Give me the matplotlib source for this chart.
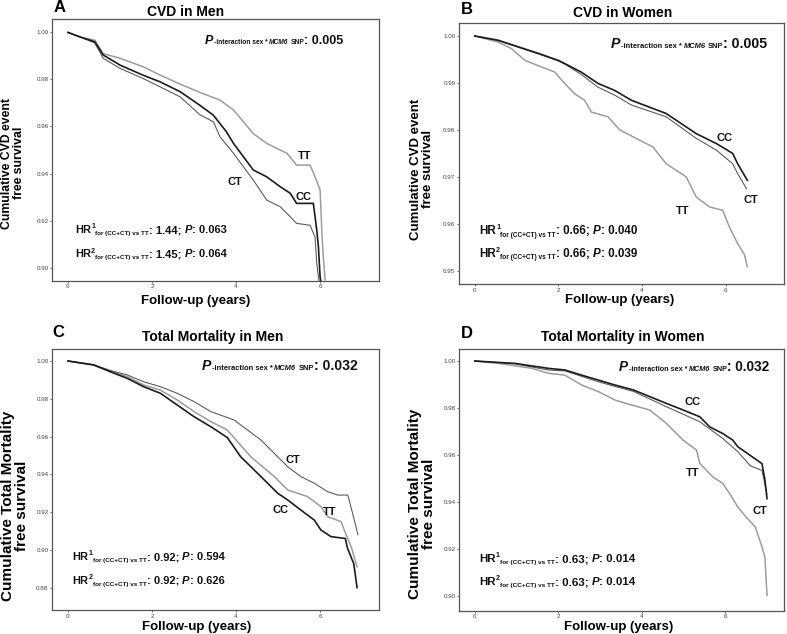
import matplotlib
matplotlib.use("Agg")
import matplotlib.pyplot as plt

plt.rcParams['font.family'] = ['Liberation Sans', 'DejaVu Sans']

# Kaplan-Meier curves: (years, cumulative free survival)
a_cc_t = [0, 0.3, 0.64, 0.84, 1.24, 1.79, 2.19, 2.67, 3.14, 3.46, 3.77, 3.94, 4.41, 4.73, 5.05, 5.29, 5.44, 5.84, 5.88, 5.92, 5.96, 6.0, 6.02]
a_cc_s = [1.0, 0.998, 0.996, 0.9904, 0.9861, 0.9818, 0.979, 0.9748, 0.969, 0.9648, 0.9578, 0.9528, 0.9415, 0.9386, 0.9344, 0.9316, 0.9273, 0.9273, 0.9216, 0.916, 0.9089, 0.896, 0.894]
a_ct_t = [0, 0.3, 0.64, 0.84, 1.24, 1.79, 2.19, 2.67, 3.14, 3.46, 3.62, 3.94, 4.41, 4.73, 5.05, 5.29, 5.44, 5.76, 5.88, 5.92, 5.96, 5.98]
a_ct_s = [1.0, 0.998, 0.9955, 0.989, 0.9847, 0.9804, 0.9769, 0.9726, 0.965, 0.962, 0.9556, 0.9486, 0.9372, 0.9287, 0.9259, 0.9216, 0.9188, 0.918, 0.913, 0.9018, 0.896, 0.894]
a_tt_t = [0, 0.3, 0.64, 0.84, 1.24, 1.79, 2.19, 2.67, 3.14, 3.62, 3.94, 4.41, 4.73, 5.21, 5.44, 5.76, 5.88, 6.0, 6.04, 6.07, 6.12]
a_tt_s = [1.0, 0.998, 0.9967, 0.991, 0.989, 0.9854, 0.9819, 0.978, 0.9745, 0.9712, 0.967, 0.957, 0.9528, 0.9486, 0.9436, 0.9436, 0.9386, 0.933, 0.916, 0.906, 0.8948]

b_cc_t = [0, 0.56, 1.04, 1.52, 2.0, 2.16, 2.55, 2.95, 3.35, 3.75, 4.58, 5.3, 5.78, 6.17, 6.29, 6.52]
b_cc_s = [1.0, 0.9991, 0.9977, 0.9963, 0.9948, 0.9941, 0.9923, 0.9899, 0.9884, 0.9863, 0.9835, 0.9792, 0.9771, 0.975, 0.9728, 0.9693]
b_ct_t = [0, 0.56, 1.04, 1.52, 2.0, 2.16, 2.55, 2.95, 3.35, 3.75, 4.58, 5.3, 5.78, 6.17, 6.29, 6.5]
b_ct_s = [1.0, 0.999, 0.9976, 0.9962, 0.9947, 0.994, 0.9918, 0.9891, 0.9874, 0.9853, 0.9828, 0.9782, 0.9757, 0.9728, 0.9707, 0.9675]
b_tt_t = [0, 0.56, 0.88, 1.2, 1.6, 1.92, 2.08, 2.39, 2.63, 2.79, 3.19, 3.47, 3.95, 4.26, 4.58, 5.06, 5.3, 5.62, 5.93, 6.09, 6.29, 6.45, 6.52]
b_tt_s = [1.0, 0.9987, 0.9973, 0.9948, 0.9934, 0.9923, 0.9906, 0.9877, 0.9863, 0.9838, 0.9828, 0.98, 0.9778, 0.9764, 0.9728, 0.97, 0.9657, 0.9636, 0.9629, 0.9594, 0.9558, 0.9535, 0.9509]

c_cc_t = [0, 0.61, 1.01, 1.41, 1.8, 2.2, 2.6, 3.0, 3.4, 3.79, 4.11, 4.51, 4.99, 5.23, 5.54, 5.86, 6.02, 6.26, 6.6, 6.65, 6.8, 6.88]
c_cc_s = [1.0, 0.9979, 0.9943, 0.9908, 0.9864, 0.9829, 0.9767, 0.9705, 0.9652, 0.9595, 0.9493, 0.9406, 0.93, 0.9264, 0.9211, 0.9158, 0.9105, 0.907, 0.906, 0.901, 0.8927, 0.880]
c_ct_t = [0, 0.61, 1.01, 1.41, 1.8, 2.2, 2.6, 3.0, 3.4, 3.95, 4.59, 4.99, 5.23, 5.54, 5.86, 6.18, 6.42, 6.66, 6.8, 6.9]
c_ct_s = [1.0, 0.998, 0.995, 0.9926, 0.989, 0.9864, 0.9829, 0.9785, 0.9732, 0.9688, 0.9582, 0.9493, 0.944, 0.9388, 0.9353, 0.9308, 0.929, 0.929, 0.917, 0.908]
c_tt_t = [0, 0.61, 1.01, 1.41, 1.8, 2.2, 2.6, 3.0, 3.4, 3.79, 4.35, 4.91, 5.23, 5.7, 6.02, 6.18, 6.5, 6.6, 6.75, 6.88]
c_tt_s = [1.0, 0.9979, 0.9945, 0.9917, 0.9873, 0.9846, 0.9794, 0.9732, 0.9679, 0.9635, 0.9493, 0.9388, 0.9317, 0.9282, 0.9229, 0.9176, 0.9149, 0.909, 0.901, 0.891]

d_cc_t = [0, 0.96, 1.76, 2.16, 2.56, 2.96, 3.36, 3.8, 4.59, 4.99, 5.39, 5.63, 5.94, 6.18, 6.3, 6.88, 6.95, 7.0]
d_cc_s = [1.0, 0.999, 0.9969, 0.9962, 0.994, 0.9919, 0.9898, 0.9877, 0.982, 0.9792, 0.9763, 0.972, 0.9692, 0.9664, 0.9636, 0.9564, 0.9495, 0.9415]
d_ct_t = [0, 0.96, 1.76, 2.16, 2.56, 2.96, 3.36, 3.8, 4.59, 5.39, 5.94, 6.3, 6.6, 6.88, 7.0]
d_ct_s = [1.0, 0.9988, 0.9962, 0.9958, 0.9935, 0.9912, 0.9892, 0.9871, 0.9806, 0.9742, 0.9671, 0.9615, 0.9555, 0.9535, 0.9435]
d_tt_t = [0, 0.57, 1.37, 1.76, 2.16, 2.56, 2.96, 3.36, 3.76, 4.19, 4.59, 4.99, 5.31, 5.39, 5.7, 5.94, 6.1, 6.3, 6.5, 6.72, 6.88, 6.95, 7.0]
d_tt_s = [1.0, 0.999, 0.9969, 0.9948, 0.994, 0.9898, 0.987, 0.9834, 0.9813, 0.9792, 0.9735, 0.9664, 0.9622, 0.9565, 0.9508, 0.948, 0.9438, 0.938, 0.9337, 0.9295, 0.921, 0.9167, 0.9004]

letters = ["A", "B", "C", "D"]
titles = ["CVD in Men", "CVD in Women", "Total Mortality in Men", "Total Mortality in Women"]
ylabels = ["Cumulative CVD event\nfree survival", "Cumulative CVD event\nfree survival",
           "Cumulative Total Mortality\nfree survival", "Cumulative Total Mortality\nfree survival"]
p_interaction = ["0.005", "0.005", "0.032", "0.032"]
hr1 = [("1.44", "0.063"), ("0.66", "0.040"), ("0.92", "0.594"), ("0.63", "0.014")]
hr2 = [("1.45", "0.064"), ("0.66", "0.039"), ("0.92", "0.626"), ("0.63", "0.014")]
yticks = [[0.90, 0.92, 0.94, 0.96, 0.98, 1.00], [0.95, 0.96, 0.97, 0.98, 0.99, 1.00],
          [0.88, 0.90, 0.92, 0.94, 0.96, 0.98, 1.00], [0.90, 0.92, 0.94, 0.96, 0.98, 1.00]]
# curve label positions (years, survival)
label_pos = [
    {"TT": (5.62, 0.9476), "CT": (3.98, 0.9365), "CC": (5.6, 0.9299)},
    {"CC": (5.97, 0.9783), "CT": (6.6, 0.965), "TT": (4.97, 0.9627)},
    {"CT": (5.35, 0.9474), "TT": (6.22, 0.920), "CC": (5.05, 0.9211)},
    {"CC": (5.21, 0.9826), "TT": (5.21, 0.9524), "CT": (6.84, 0.9363)},
]

curves = [
    {"CC": (a_cc_t, a_cc_s), "CT": (a_ct_t, a_ct_s), "TT": (a_tt_t, a_tt_s)},
    {"CC": (b_cc_t, b_cc_s), "CT": (b_ct_t, b_ct_s), "TT": (b_tt_t, b_tt_s)},
    {"CC": (c_cc_t, c_cc_s), "CT": (c_ct_t, c_ct_s), "TT": (c_tt_t, c_tt_s)},
    {"CC": (d_cc_t, d_cc_s), "CT": (d_ct_t, d_ct_s), "TT": (d_tt_t, d_tt_s)},
]
line_style = {"CC": ("#1c1c1c", 1.2), "CT": ("#5c5c5c", 0.8), "TT": ("#9c9c9c", 1.1)}

# layout (figure fraction) and text placement (axes fraction)
rects = [[0.066, 0.5568, 0.4155, 0.4132], [0.583, 0.552, 0.4133, 0.412],
         [0.066, 0.0374, 0.4155, 0.4126], [0.5832, 0.0363, 0.4126, 0.4128]]
ylims = [(0.8943, 1.0057), (0.9472, 1.0028), (0.868, 1.0065), (0.8938, 1.005)]
letter_xy = [(0.024, 1.044), (0.025, 1.052), (0.021, 1.061), (0.023, 1.06)]
title_xy = [(0.41, 1.028), (0.505, 1.036), (0.493, 1.045), (0.505, 1.047)]
pint_xy = [(0.468, 0.903), (0.468, 0.904), (0.458, 0.917), (0.493, 0.917)]
pint_scale = [1.0, 1.13, 1.12, 1.09]
hr_xy = [(0.070, 0.182, 0.090), (0.062, 0.190, 0.105), (0.063, 0.191, 0.102), (0.062, 0.187, 0.098)]
hr_scale = [1.0, 1.05, 1.0, 1.03]
ylabel_xy = [(-0.118, 0.45), (-0.114, 0.44), (-0.113, 0.40), (-0.115, 0.41)]
ylabel_size = [8.8, 9.5, 11, 11]
xlabel_xy = [(0.44, -0.078), (0.493, -0.063), (0.442, -0.063), (0.493, -0.06)]

fig = plt.figure(figsize=(7.87, 6.34), dpi=100)
renderer = fig.canvas.get_renderer()


def rich_text(ax, x, y, parts, scale=1.0):
    # parts: (text, size, style, dy in points, gap before in points)
    off = 0.0
    for s, size, style, dy, gap in parts:
        off += gap * scale
        t = ax.annotate(s, (x, y), xycoords="axes fraction", xytext=(off, dy * scale),
                        textcoords="offset points", fontsize=size * scale, fontweight="bold",
                        fontstyle=style, va="baseline", ha="left", color="#111111")
        off += t.get_window_extent(renderer).width * 72 / fig.dpi


for i in range(4):
    ax = fig.add_axes(rects[i])
    for g in ["TT", "CT", "CC"]:
        t, s = curves[i][g]
        color, lw = line_style[g]
        ax.plot(t, s, color=color, lw=lw, solid_joinstyle="miter")
    for g, (lx, ly) in label_pos[i].items():
        ax.text(lx, ly, g, fontsize=8, fontweight="bold", ha="center", va="center", color="#111111")

    ax.set_xlim(-0.38, 7.4)
    ax.set_ylim(*ylims[i])
    ax.set_xticks([0, 2, 4, 6])
    ax.set_yticks(yticks[i])
    ax.set_yticklabels([f"{v:.2f}" for v in yticks[i]])
    ax.tick_params(labelsize=4.5, labelcolor="#444444", length=1.5, width=0.6, color="#555555", pad=1)
    for sp in ax.spines.values():
        sp.set_color("#555555")
        sp.set_linewidth(0.9)

    ax.text(*letter_xy[i], letters[i], transform=ax.transAxes, fontsize=12, fontweight="bold",
            ha="center", va="center")
    ax.text(*title_xy[i], titles[i], transform=ax.transAxes, fontsize=10, fontweight="bold",
            ha="center", va="center")
    ax.text(*ylabel_xy[i], ylabels[i], transform=ax.transAxes, fontsize=ylabel_size[i], fontweight="bold",
            rotation=90, ha="center", va="center", multialignment="center", linespacing=1.0)
    ax.text(*xlabel_xy[i], "Follow-up (years)", transform=ax.transAxes, fontsize=9.5,
            fontweight="bold", ha="center", va="center")

    px, py = pint_xy[i]
    rich_text(ax, px, py, [("P", 9, "italic", 0, 0), ("-interaction sex *", 4.8, "normal", 0, 0.3),
                           ("MCM6", 4.8, "italic", 0, 1.3), ("SNP", 4.8, "normal", 0, 1.3),
                           (": " + p_interaction[i], 9, "normal", 0, 0)], pint_scale[i])
    hx, hy1, hy2 = hr_xy[i]
    for k, (hy, vals) in enumerate([(hy1, hr1[i]), (hy2, hr2[i])]):
        rich_text(ax, hx, hy, [("HR", 8, "normal", 0, 0), (str(k + 1), 5, "normal", 3.5, 0.2),
                               ("for (CC+CT) vs TT", 4.5, "normal", -1.5, 0.2),
                               (": " + vals[0] + ";", 8, "normal", 0, 0), ("P", 8, "italic", 0, 2.2),
                               (": " + vals[1], 8, "normal", 0, 0)], hr_scale[i])

fig.savefig("out.png", dpi=100)
